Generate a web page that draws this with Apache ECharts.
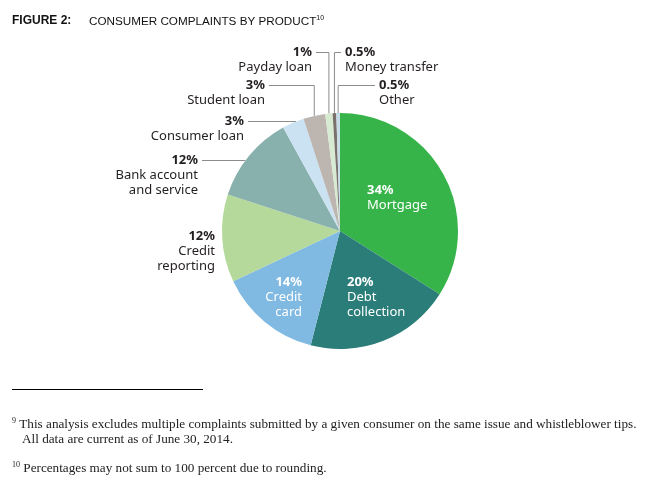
<!DOCTYPE html>
<html>
<head>
<meta charset="utf-8">
<script src="https://cdn.jsdelivr.net/npm/echarts@6/dist/echarts.min.js"></script>
<style>
  html, body { margin: 0; padding: 0; background: #fff; }
  #chart { width: 659px; height: 477px; }
</style>
</head>
<body>
<div id="chart"></div>
<script>
// data
const products = ['Mortgage', 'Debt collection', 'Credit card', 'Credit reporting',
  'Bank account and service', 'Consumer loan', 'Student loan', 'Payday loan',
  'Money transfer', 'Other']
const shares = [34, 20, 14, 12, 12, 3, 3, 1, 0.5, 0.5]
const shareLabels = ['34%', '20%', '14%', '12%', '12%', '3%', '3%', '1%', '0.5%', '0.5%']
const nameLabels = ['Mortgage', 'Debt\ncollection', 'Credit\ncard', 'Credit\nreporting',
  'Bank account\nand service', 'Consumer loan', 'Student loan', 'Payday loan',
  'Money transfer', 'Other']
const colors = ['#36b44a', '#2b7d79', '#80b9e2', '#b4d99a', '#88b1ad',
  '#cbe2f2', '#bcb5b0', '#d7ebd2', '#7b716c', '#c6dce8']

// pie geometry + where each label block sits (top of block)
const CX = 340, CY = 231, R = 118
const LINE_H = 15
const labelSpots = [
  { x: 367, y: 183, align: 'left', inside: true },
  { x: 347, y: 275, align: 'left', inside: true },
  { x: 302, y: 275, align: 'right', inside: true },
  { x: 215, y: 229, align: 'right' },
  { x: 198, y: 153, align: 'right', line: 'flat' },
  { x: 244, y: 114, align: 'right', line: 'flat' },
  { x: 265, y: 78, align: 'right', line: 'elbow' },
  { x: 312, y: 45, align: 'right', line: 'elbow' },
  { x: 345, y: 45, align: 'left', line: 'elbow' },
  { x: 379, y: 78, align: 'left', line: 'elbow' }
]

const pieFont = 'Noto Sans'

const data = products.map((name, i) => {
  const spot = labelSpots[i]
  const side = spot.align === 'right' ? 'r' : 'l'
  return {
    name: name,
    value: shares[i],
    itemStyle: { color: colors[i] },
    label: {
      position: spot.inside ? 'inside' : 'outside',
      color: spot.inside ? '#fff' : '#231f20',
      formatter: '{p' + side + '|' + shareLabels[i] + '}\n' +
        nameLabels[i].split('\n').map(s => '{n' + side + '|' + s + '}').join('\n')
    },
    labelLine: { show: !!spot.line }
  }
})

let myChart = echarts.init(document.getElementById('chart'))

const titleFont = 'Liberation Sans'
const noteFont = 'Liberation Serif'
const noteSize = 13.2

myChart.setOption({
  animation: false,
  title: [
    {
      text: 'FIGURE 2:', left: 7, top: 10,
      textStyle: { fontFamily: titleFont, fontSize: 12, fontWeight: 'bold', color: '#111' }
    },
    {
      text: '{t|CONSUMER COMPLAINTS BY PRODUCT}{s|10}', left: 84, top: 10,
      textStyle: {
        fontWeight: 'normal',
        rich: {
          t: { fontFamily: titleFont, fontSize: 11.7, fontWeight: 'normal', color: '#111', lineHeight: 14 },
          s: { fontFamily: titleFont, fontSize: 7, fontWeight: 'normal', color: '#111', verticalAlign: 'top' }
        }
      }
    },
    {
      text: '{s|9} This analysis excludes multiple complaints submitted by a given consumer on the same issue and whistleblower tips.',
      left: 7, top: 412,
      textStyle: {
        rich: {
          s: { fontFamily: noteFont, fontSize: 8, color: '#222', verticalAlign: 'top' }
        },
        fontFamily: noteFont, fontSize: noteSize, color: '#222', fontWeight: 'normal', lineHeight: 15
      }
    },
    {
      text: 'All data are current as of June 30, 2014.',
      left: 17, top: 427,
      textStyle: { fontFamily: noteFont, fontSize: noteSize, color: '#222', fontWeight: 'normal', lineHeight: 15 }
    },
    {
      text: '{s|10} Percentages may not sum to 100 percent due to rounding.',
      left: 7, top: 456,
      textStyle: {
        rich: {
          s: { fontFamily: noteFont, fontSize: 8, color: '#222', verticalAlign: 'top' }
        },
        fontFamily: noteFont, fontSize: noteSize, color: '#222', fontWeight: 'normal', lineHeight: 15
      }
    }
  ],
  graphic: [
    {
      type: 'line', silent: true,
      shape: { x1: 12, y1: 389.5, x2: 203, y2: 389.5 },
      style: { stroke: '#000', lineWidth: 1 }
    }
  ],
  series: [
    {
      type: 'pie',
      center: [CX, CY],
      radius: R,
      startAngle: 90,
      clockwise: true,
      avoidLabelOverlap: false,
      itemStyle: { borderWidth: 0 },
      emphasis: { disabled: true },
      label: {
        overflow: 'none',
        rich: {
          pl: { fontFamily: pieFont, fontSize: 13, fontWeight: 'bold', lineHeight: LINE_H, align: 'left' },
          nl: { fontFamily: pieFont, fontSize: 13, lineHeight: LINE_H, align: 'left' },
          pr: { fontFamily: pieFont, fontSize: 13, fontWeight: 'bold', lineHeight: LINE_H, align: 'right' },
          nr: { fontFamily: pieFont, fontSize: 13, lineHeight: LINE_H, align: 'right' }
        }
      },
      labelLine: { lineStyle: { color: '#8c8c8c', width: 1 } },
      labelLayout: function (params) {
        const spot = labelSpots[params.dataIndex]
        const out = { x: spot.x, y: spot.y, align: spot.align, verticalAlign: 'top' }
        if (spot.line) {
          const ly = spot.y + LINE_H / 2
          const sx = spot.align === 'right' ? spot.x + 4 : spot.x - 4
          if (spot.line === 'elbow' && params.labelLinePoints) {
            const pt = params.labelLinePoints[0] // point on the slice edge from the pie layout
            out.labelLinePoints = [[sx, ly], [pt[0], ly], [pt[0], pt[1]]]
          } else {
            const ex = CX - Math.sqrt(R * R - (ly - CY) * (ly - CY))
            out.labelLinePoints = [[sx, ly], [ex, ly]]
          }
        }
        return out
      },
      data: data
    }
  ]
})
</script>
</body>
</html>
